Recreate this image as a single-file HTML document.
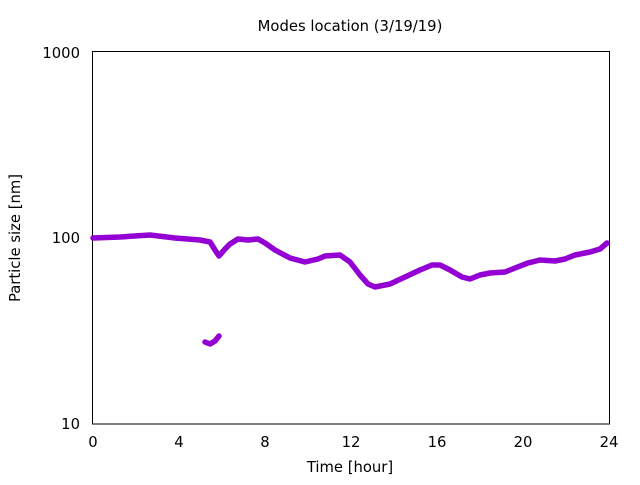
<!DOCTYPE html>
<html><head><meta charset="utf-8"><style>
html,body{margin:0;padding:0;background:#fff;}
svg text{font-family:"DejaVu Sans","Liberation Sans",sans-serif;font-size:14.8px;fill:#000;}
</style></head><body>
<svg width="640" height="480" viewBox="0 0 640 480" xmlns="http://www.w3.org/2000/svg">
<rect width="640" height="480" fill="#fff"/>
<g stroke="#000" stroke-width="1" fill="none">
<rect x="92.5" y="51.5" width="517" height="372.5"/>
</g>
<g id="tk" stroke="#000" stroke-width="1"></g>
<text x="350" y="31" text-anchor="middle">Modes location (3/19/19)</text>
<text x="80" y="58" text-anchor="end">1000</text>
<text x="80" y="243" text-anchor="end">100</text>
<text x="80" y="429" text-anchor="end">10</text>
<g text-anchor="middle">
<text x="93" y="447">0</text><text x="179" y="447">4</text><text x="265" y="447">8</text>
<text x="351" y="447">12</text><text x="437" y="447">16</text><text x="523" y="447">20</text><text x="609" y="447">24</text>
</g>
<text x="350" y="472" text-anchor="middle">Time [hour]</text>
<text transform="translate(20,238) rotate(-90)" text-anchor="middle">Particle size [nm]</text>
<g stroke="#9400d3" stroke-width="5.5" fill="none" stroke-linejoin="round" stroke-linecap="round">
<polyline points="93,238 120,237 150,235 175,238 200,240 210,242 215,250 219,256 225,249 230,244 238,239 248,240 258,239 265,243 275,250 290,258 305,262 318,259 325,256 340,255 350,262 360,275 368,284 375,287 390,284 405,277 420,270 432,265 440,265 450,270 462,277 470,279 480,275 490,273 505,272 515,268 528,263 540,260 555,261 565,259 575,255 590,252 600,249 607,243"/>
<polyline points="205,342 210,344 215,341 219,336"/>
</g>
<script>
var g=document.getElementById('tk'),s='';
for(var h=0;h<=24;h++){var x=92.5+h*517/24,l=(h%4==0)?9:5;
s+='<line x1="'+x+'" y1="424" x2="'+x+'" y2="'+(424-l)+'"/><line x1="'+x+'" y1="51.5" x2="'+x+'" y2="'+(51.5+l)+'"/>';}
for(var d=0;d<2;d++)for(var k=1;k<=10;k++){var y=424-(d+Math.log10(k))*186.25,l=(k==1||k==10)?9:5;
s+='<line x1="92.5" y1="'+y+'" x2="'+(92.5+l)+'" y2="'+y+'"/><line x1="609.5" y1="'+y+'" x2="'+(609.5-l)+'" y2="'+y+'"/>';}
g.innerHTML=s;
</script>
</svg>
</body></html>
